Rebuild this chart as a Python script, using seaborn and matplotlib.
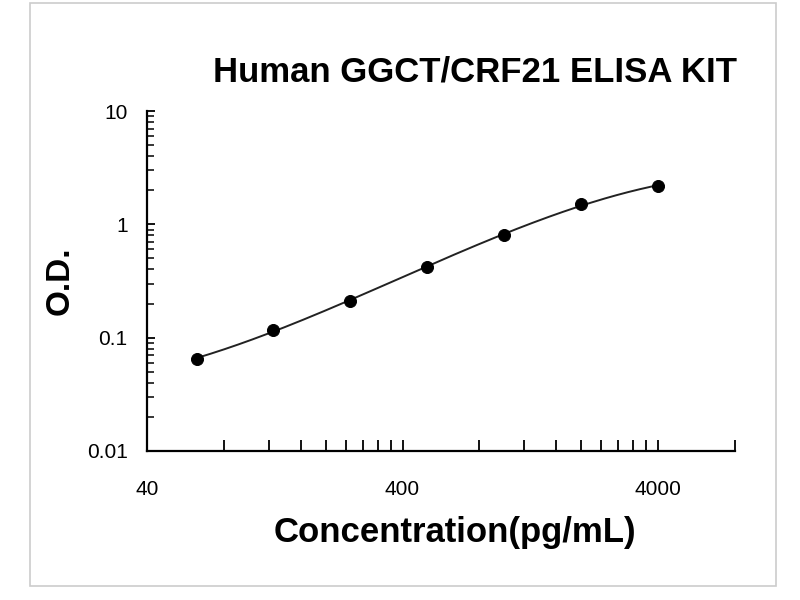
import numpy as np
import pandas as pd
import matplotlib
matplotlib.use("Agg")
import matplotlib.pyplot as plt
from matplotlib.patches import Rectangle
from matplotlib.ticker import FixedLocator, NullFormatter, FixedFormatter
import seaborn as sns

# standard curve points
concentration = [62.5, 125, 250, 500, 1000, 2000, 4000]
od = [0.065, 0.118, 0.212, 0.42, 0.81, 1.52, 2.18]

x_major = [40, 400, 4000]
x_major_labels = ["40", "400", "4000"]
y_major = [0.01, 0.1, 1, 10]
y_major_labels = ["0.01", "0.1", "1", "10"]

title = "Human GGCT/CRF21 ELISA KIT"
xlabel = "Concentration(pg/mL)"
ylabel = "O.D."

sns.set_style("ticks")
plt.rcParams['font.family'] = ['Liberation Sans', 'DejaVu Sans']
plt.rcParams['text.color'] = 'black'
plt.rcParams['axes.labelcolor'] = 'black'
plt.rcParams['xtick.color'] = 'black'
plt.rcParams['ytick.color'] = 'black'

df = pd.DataFrame({'conc': concentration, 'od': od})

# smooth fitted curve in log-log space (cubic fit of the points)
coef = np.polyfit(np.log10(df['conc']), np.log10(df['od']), 3)
xs = np.logspace(np.log10(df['conc'].min()), np.log10(df['conc'].max()), 200)
fit = pd.DataFrame({'conc': xs, 'od': 10 ** np.polyval(coef, np.log10(xs))})

fig = plt.figure(figsize=(8, 6), dpi=100)
ax = fig.add_axes([147 / 800, 1 - 451 / 600, (735 - 147) / 800, (451 - 111) / 600])

sns.lineplot(data=fit, x='conc', y='od', ax=ax, color='#222222', linewidth=1.4)
sns.scatterplot(data=df, x='conc', y='od', ax=ax, color='black', s=75, edgecolor='black', zorder=3)

ax.set_xscale('log')
ax.set_yscale('log')
ax.set_xlim(40, 8000)
ax.set_ylim(0.01, 10)

ax.xaxis.set_major_locator(FixedLocator(x_major))
ax.xaxis.set_major_formatter(FixedFormatter(x_major_labels))
x_minor = [40 * k * 10 ** n for n in range(2) for k in range(2, 10)] + [8000]
ax.xaxis.set_minor_locator(FixedLocator(x_minor))
ax.xaxis.set_minor_formatter(NullFormatter())

ax.yaxis.set_major_locator(FixedLocator(y_major))
ax.yaxis.set_major_formatter(FixedFormatter(y_major_labels))
y_minor = [k * 10.0 ** n for n in range(-2, 1) for k in range(2, 10)]
ax.yaxis.set_minor_locator(FixedLocator(y_minor))
ax.yaxis.set_minor_formatter(NullFormatter())

ax.tick_params(axis='x', which='both', direction='in', length=8, width=1.3)
ax.tick_params(axis='y', which='major', direction='in', length=6, width=1.3)
ax.tick_params(axis='y', which='minor', direction='in', length=5, width=1.1)
ax.tick_params(axis='x', which='major', pad=21, labelsize=15)
ax.tick_params(axis='y', which='major', pad=14, labelsize=15)

for s in ['top', 'right']:
    ax.spines[s].set_visible(False)
for s in ['left', 'bottom']:
    ax.spines[s].set_linewidth(1.6)
    ax.spines[s].set_color('black')

ax.set_xlabel(xlabel, fontsize=25, fontweight='bold', labelpad=12)
ax.xaxis.label.set_x((455 - 147) / 588)
ax.set_ylabel(ylabel, fontsize=24, fontweight='bold', labelpad=8)
fig.text(737 / 800, 1 - 72 / 600, title, fontsize=25, fontweight='bold',
         ha='right', va='center')

# light frame around the picture
fig.patches.append(Rectangle((30 / 800, 1 - 586 / 600), (776 - 30) / 800, (586 - 3) / 600,
                             transform=fig.transFigure, fill=False,
                             edgecolor='#cccccc', linewidth=1.2))

fig.savefig('out.png', dpi=100)
